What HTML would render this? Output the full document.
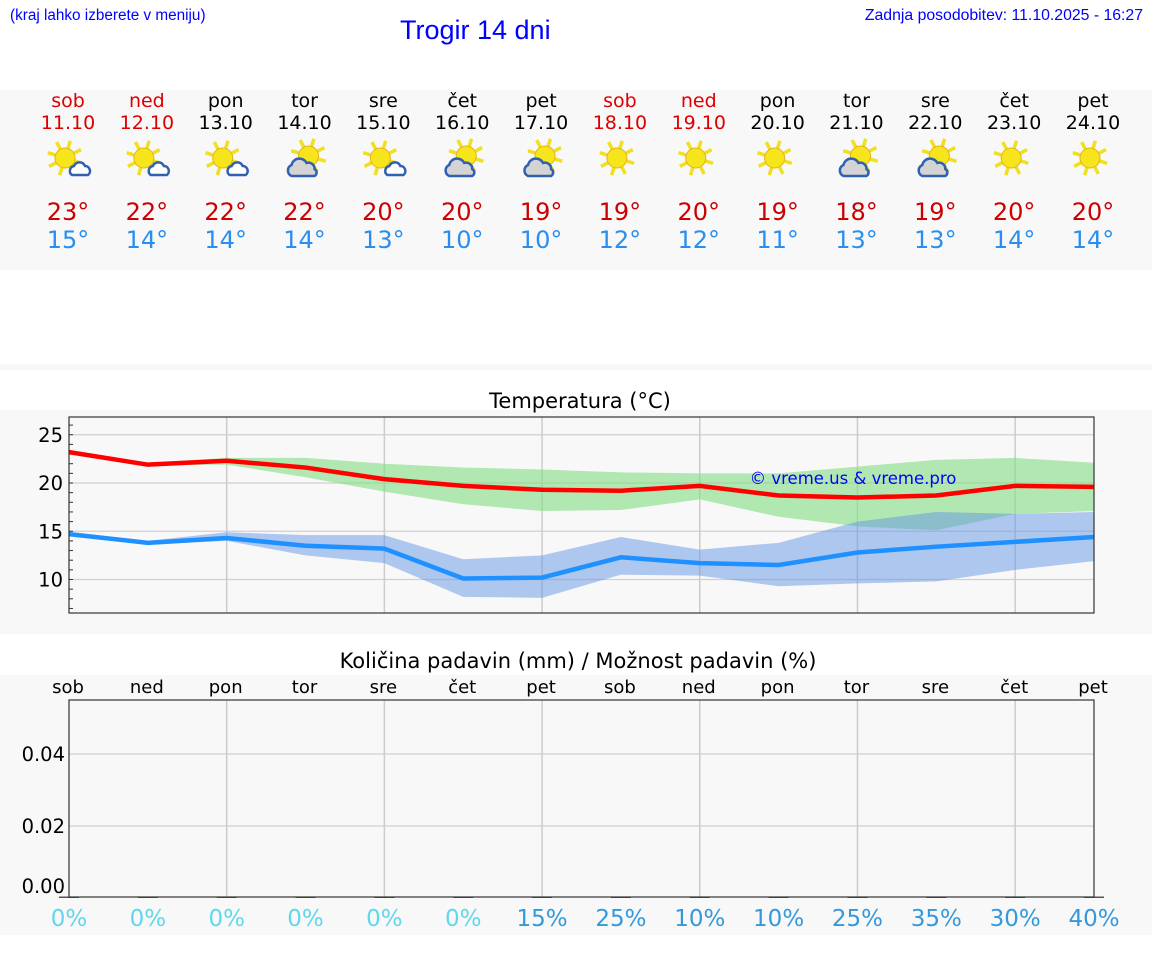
<!DOCTYPE html>
<html><head><meta charset="utf-8"><style>
body{margin:0;width:1152px;height:975px;background:#fff;position:relative;overflow:hidden;font-family:"DejaVu Sans","Liberation Sans",sans-serif}
.t{position:absolute;white-space:nowrap}
</style></head><body>
<div class="t" style="left:10px;top:7px;font:15.3px 'Liberation Sans',sans-serif;color:#00f">(kraj lahko izberete v meniju)</div>
<div class="t" style="left:400px;top:15px;font:27px 'Liberation Sans',sans-serif;color:#00f">Trogir 14 dni</div>
<div class="t" style="right:9px;top:7px;font:15.8px 'Liberation Sans',sans-serif;color:#00f">Zadnja posodobitev: 11.10.2025 - 16:27</div>
<svg width="1152" height="975" style="position:absolute;left:0;top:0" xmlns="http://www.w3.org/2000/svg" font-family="DejaVu Sans, sans-serif">
<rect x="0" y="90" width="1152" height="180" fill="#f8f8f8"/>
<rect x="0" y="364" width="1152" height="6" fill="#f8f8f8"/>
<rect x="0" y="410" width="1152" height="224" fill="#f8f8f8"/>
<rect x="0" y="675" width="1152" height="260" fill="#f8f8f8"/>
<g id="days"></g>
<text x="580" y="408" font-size="21" text-anchor="middle">Temperatura (°C)</text>
<g id="temp"></g>
<text x="578" y="668" font-size="21" text-anchor="middle">Količina padavin (mm) / Možnost padavin (%)</text>
<g id="prec"></g>
</svg>
<script>
const dayNames=["sob","ned","pon","tor","sre","čet","pet","sob","ned","pon","tor","sre","čet","pet"];
const dates=["11.10","12.10","13.10","14.10","15.10","16.10","17.10","18.10","19.10","20.10","21.10","22.10","23.10","24.10"];
const weekend=[1,1,0,0,0,0,0,1,1,0,0,0,0,0];
const icons=["sc","sc","sc","cs","sc","cs","cs","s","s","s","cs","cs","s","s"];
const tmax=[23,22,22,22,20,20,19,19,20,19,18,19,20,20];
const tmin=[15,14,14,14,13,10,10,12,12,11,13,13,14,14];
const maxLine=[23.2,21.9,22.3,21.6,20.4,19.7,19.3,19.2,19.7,18.7,18.5,18.7,19.7,19.6];
const maxHi=[23.3,22.1,22.6,22.6,22.0,21.6,21.4,21.1,21.0,21.0,21.7,22.4,22.6,22.1];
const maxLo=[23.0,21.8,21.9,20.6,19.1,17.8,17.1,17.2,18.3,16.5,15.5,15.1,16.8,17.1];
const minLine=[14.7,13.8,14.3,13.5,13.2,10.1,10.2,12.3,11.7,11.5,12.8,13.4,13.9,14.4];
const minHi=[14.9,14.0,14.9,14.6,14.6,12.1,12.5,14.4,13.1,13.8,16.0,17.0,16.8,17.0];
const minLo=[14.5,13.6,14.0,12.5,11.7,8.2,8.1,10.5,10.4,9.3,9.6,9.8,11.0,11.9];
const tempTicks=[10,15,20,25];
const precip=[0,0,0,0,0,0,0,0,0,0,0,0,0,0];
const precipProb=[0,0,0,0,0,0,15,25,10,10,25,35,30,40];
const precTicks=[0,0.02,0.04];
const NS="http://www.w3.org/2000/svg";
function mk(tag,at,par,txt){const e=document.createElementNS(NS,tag);for(const k in at)e.setAttribute(k,at[k]);if(txt!==undefined)e.textContent=txt;par.appendChild(e);return e;}
const X0=69,X1=1094;
const x=i=>X0+i*(X1-X0)/13;
const ty=v=>483-(v-20)*9.65;
const py=v=>898-v*3600;
const gd=document.getElementById('days');
dayNames.forEach((d,i)=>{
 const cx=x(i)-1;
 let e=mk('text',{x:cx,y:107,'font-size':19,'text-anchor':'middle',fill:weekend[i]?'#d00':'#000'},gd,d);
 
 e=mk('text',{x:cx,y:129,'font-size':19,'text-anchor':'middle',fill:weekend[i]?'#d00':'#000'},gd,dates[i]);
 
 const g=mk('g',{transform:`translate(${cx},158)`},gd);
 
 const sx=icons[i]==='cs'?4:-3, sy=icons[i]==='cs'?-2:0;
 for(let a=0;a<8;a++){const r=a*Math.PI/4+0.3;mk('line',{x1:sx+Math.cos(r)*10,y1:sy+Math.sin(r)*10,x2:sx+Math.cos(r)*18,y2:sy+Math.sin(r)*18,stroke:'#f0e020','stroke-width':3.5},g);}
 mk('circle',{cx:sx,cy:sy,r:10,fill:'#f5e51a',stroke:'#e8b020','stroke-width':1},g);
 if(icons[i]==='sc'){mk('path',{d:'M4 17 a5 5 0 0 1 2-9 a6 6 0 0 1 11 0 a5 5 0 0 1 3 9 z',fill:'#fff',stroke:'#3060b0','stroke-width':2.5},g);}
 if(icons[i]==='cs'){mk('path',{d:'M-13 18 a6 6 0 0 1 0-11 a8 8 0 0 1 15-2 a6 6 0 0 1 8 6 a4 4 0 0 1 0 7 z',fill:'#d4d4d4',stroke:'#3060b0','stroke-width':2.5},g);}
 e=mk('text',{x:cx,y:220,'font-size':24,'text-anchor':'middle',fill:'#c00'},gd,tmax[i]+'°');
 
 e=mk('text',{x:cx,y:248,'font-size':24,'text-anchor':'middle',fill:'#2a8ef0'},gd,tmin[i]+'°');
 
});
const gt=document.getElementById('temp');
mk('rect',{x:X0,y:417,width:X1-X0,height:196,fill:'#f8f8f8'},gt);
tempTicks.forEach(v=>{mk('line',{x1:X0,x2:X1,y1:ty(v),y2:ty(v),stroke:'#d0d0d0','stroke-width':1.3},gt);
 const e=mk('text',{x:63,y:ty(v)+7,'font-size':19.5,'text-anchor':'end'},gt,String(v));});
for(let v=7;v<=26;v++)mk('line',{x1:X0,x2:X0+4,y1:ty(v),y2:ty(v),stroke:'#333'},gt);
for(let i=2;i<13;i+=2)mk('line',{x1:x(i),x2:x(i),y1:417,y2:613,stroke:'#ccc','stroke-width':1.5},gt);
function band(hi,lo,fill,name){let d='M'+hi.map((v,i)=>x(i)+' '+ty(v)).join(' L')+' L'+lo.map((v,i)=>x(i)+' '+ty(v)).reverse().join(' L')+'Z';
 const e=mk('path',{d,fill},gt);}
band(maxHi,maxLo,'rgba(130,220,130,0.6)','max-temp-range');
band(minHi,minLo,'rgba(100,150,230,0.5)','min-temp-range');
function line(a,c,name){const e=mk('polyline',{points:a.map((v,i)=>x(i)+','+ty(v)).join(' '),fill:'none',stroke:c,'stroke-width':4.5},gt);}
line(maxLine,'#f00','max-temp-line');line(minLine,'#1e90ff','min-temp-line');
let w=mk('text',{x:853,y:484,'font-size':16.5,'text-anchor':'middle',fill:'#00f'},gt,'© vreme.us & vreme.pro');
mk('rect',{x:X0,y:417,width:X1-X0,height:196,fill:'none',stroke:'#333','stroke-width':1.2},gt);
const gp=document.getElementById('prec');
dayNames.forEach((d,i)=>{const e=mk('text',{x:x(i)-1,y:693,'font-size':18,'text-anchor':'middle'},gp,d);});
precTicks.forEach(v=>{if(v>0)mk('line',{x1:X0,x2:X1,y1:py(v),y2:py(v),stroke:'#d0d0d0','stroke-width':1.3},gp);
 const e=mk('text',{x:65,y:(v>0?py(v):886)+7,'font-size':19.5,'text-anchor':'end'},gp,v.toFixed(2));});
for(let i=2;i<13;i+=2)mk('line',{x1:x(i),x2:x(i),y1:700,y2:897,stroke:'#ccc','stroke-width':1.5},gp);
precip.forEach((v,i)=>{const h=Math.max(1.5,v*3600);const e=mk('rect',{x:x(i)-10,y:py(v)-h,width:20,height:h,fill:'#555'},gp);});
mk('rect',{x:X0,y:700,width:X1-X0,height:197,fill:'none',stroke:'#333','stroke-width':1.2},gp);
precipProb.forEach((v,i)=>{const e=mk('text',{x:x(i),y:926,'font-size':23,'text-anchor':'middle',fill:v>0?'#3399dd':'#5fd8ec'},gp,v+'%');});
</script>
</body></html>
